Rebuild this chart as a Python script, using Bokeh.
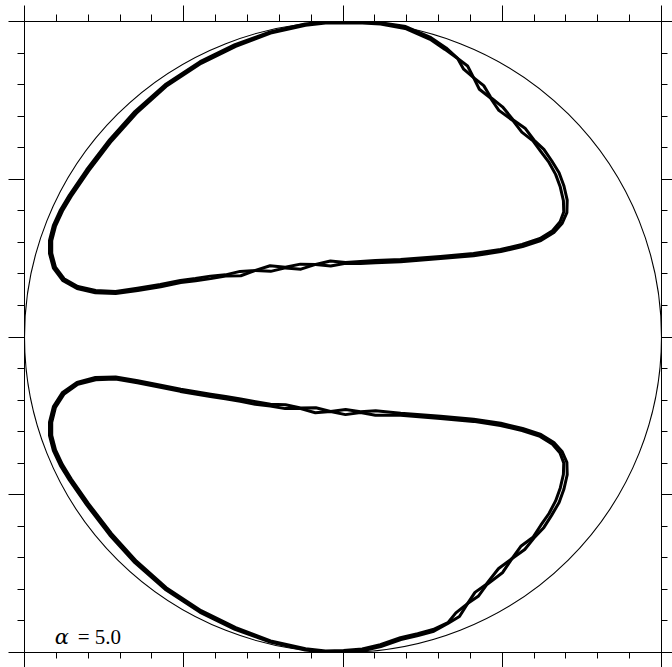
import numpy as np
from bokeh.plotting import figure
from bokeh.models import Range1d, LinearAxis, FixedTicker
from bokeh.core.properties import value
from bokeh.embed import file_html
from bokeh.resources import INLINE

# Tick positions (no labels are printed on this frame)
major_ticks = [-1.0, -0.5, 0.0, 0.5, 1.0]
minor_ticks = [-0.9, -0.8, -0.7, -0.6, -0.4, -0.3, -0.2, -0.1,
               0.1, 0.2, 0.3, 0.4, 0.6, 0.7, 0.8, 0.9]

alpha_label = "\u03b1"
alpha_value = "= 5.0"

# Upper attractor loop: centre line of the traced band
upper_x = [0.002, 0.061, 0.118, 0.196, 0.275, 0.322, 0.360, 0.385, 0.410, 0.435,
           0.463, 0.495, 0.535, 0.567, 0.598, 0.626, 0.651, 0.673, 0.688, 0.698,
           0.698, 0.685, 0.660, 0.620, 0.563, 0.495, 0.410, 0.306, 0.181, 0.102,
           0.055, 0.008, -0.039, -0.086, -0.133, -0.181, -0.228, -0.275, -0.322, -0.369,
           -0.416, -0.463, -0.510, -0.573, -0.645, -0.714, -0.777, -0.834, -0.878, -0.906,
           -0.918, -0.918, -0.906, -0.884, -0.856, -0.802, -0.730, -0.651, -0.557, -0.447,
           -0.338, -0.228, -0.118, -0.055]
upper_y = [0.997, 0.997, 0.994, 0.981, 0.946, 0.914, 0.883, 0.854, 0.822, 0.791,
           0.759, 0.724, 0.686, 0.655, 0.623, 0.591, 0.556, 0.518, 0.477, 0.433,
           0.395, 0.363, 0.334, 0.309, 0.290, 0.274, 0.261, 0.252, 0.242, 0.239,
           0.236, 0.235, 0.233, 0.230, 0.223, 0.220, 0.217, 0.211, 0.201, 0.195,
           0.189, 0.182, 0.176, 0.163, 0.151, 0.141, 0.144, 0.157, 0.182, 0.220,
           0.265, 0.306, 0.353, 0.401, 0.448, 0.528, 0.623, 0.712, 0.797, 0.870,
           0.924, 0.965, 0.990, 0.997]
# half-separation of the repeated passes along the loop (braided where large)
upper_spread = [0.002, 0.002, 0.002, 0.003, 0.003, 0.003,
                0.000, 0.008, 0.000, 0.009, 0.001, 0.008, 0.001, 0.008, 0.002, 0.006,
                0.005, 0.006, 0.006, 0.006, 0.005, 0.004,
                0.0035, 0.0035, 0.0035, 0.0035, 0.0035, 0.0035, 0.0035, 0.0035,
                0.003, 0.001, 0.008, 0.000, 0.008, 0.001, 0.009, 0.000, 0.007, 0.002, 0.004, 0.0035,
                0.0035, 0.0035, 0.0035, 0.0035, 0.0035, 0.0035, 0.0035, 0.0035, 0.0035, 0.0035, 0.0035,
                0.0035, 0.0035, 0.0035, 0.0035, 0.0035, 0.003, 0.003, 0.003, 0.002, 0.002, 0.002]

# Lower attractor loop
lower_x = [0.002, 0.061, 0.118, 0.181, 0.235, 0.284, 0.330, 0.360, 0.391, 0.420,
           0.450, 0.495, 0.530, 0.565, 0.598, 0.626, 0.651, 0.673, 0.688, 0.698,
           0.698, 0.685, 0.660, 0.620, 0.563, 0.495, 0.410, 0.306, 0.181, 0.102,
           0.055, 0.008, -0.039, -0.086, -0.133, -0.181, -0.228, -0.275, -0.322, -0.369,
           -0.416, -0.463, -0.510, -0.573, -0.645, -0.714, -0.777, -0.834, -0.878, -0.906,
           -0.918, -0.918, -0.906, -0.884, -0.856, -0.802, -0.730, -0.651, -0.557, -0.447,
           -0.338, -0.228, -0.118, -0.055]
lower_y = [-0.997, -0.992, -0.978, -0.956, -0.943, -0.930, -0.906, -0.880, -0.845, -0.815,
           -0.785, -0.740, -0.703, -0.668, -0.636, -0.600, -0.562, -0.522, -0.480, -0.436,
           -0.398, -0.366, -0.337, -0.312, -0.293, -0.277, -0.264, -0.255, -0.245, -0.241,
           -0.238, -0.238, -0.236, -0.232, -0.226, -0.221, -0.216, -0.209, -0.200, -0.192,
           -0.185, -0.177, -0.169, -0.156, -0.142, -0.130, -0.132, -0.147, -0.178, -0.222,
           -0.270, -0.312, -0.359, -0.406, -0.452, -0.530, -0.625, -0.713, -0.797, -0.870,
           -0.924, -0.965, -0.990, -0.997]
lower_spread = [0.003, 0.003, 0.003, 0.003, 0.003, 0.003,
                0.001, 0.008, 0.000, 0.008, 0.001, 0.009, 0.000, 0.008, 0.002, 0.006,
                0.005, 0.006, 0.006, 0.006, 0.005, 0.004,
                0.0035, 0.0035, 0.0035, 0.0035, 0.0035, 0.0035,
                0.003, 0.007, 0.001, 0.008, 0.000, 0.008, 0.001, 0.006, 0.003, 0.004,
                0.0035, 0.0035, 0.0035, 0.0035, 0.0035, 0.0035, 0.0035, 0.0035, 0.0035, 0.0035,
                0.0035, 0.0035, 0.0035, 0.0035, 0.0035, 0.0035, 0.0035, 0.0035, 0.0035, 0.0035,
                0.003, 0.003, 0.003, 0.002, 0.002, 0.002]


def passes(xs, ys, spread):
    """Two closed passes on either side of the loop's centre line."""
    x = np.asarray(xs, dtype=float)
    y = np.asarray(ys, dtype=float)
    s = np.asarray(spread, dtype=float)
    tx = np.roll(x, -1) - np.roll(x, 1)
    ty = np.roll(y, -1) - np.roll(y, 1)
    norm = np.hypot(tx, ty)
    nx, ny = ty / norm, -tx / norm
    out = []
    for sign in (1.0, -1.0):
        px = x + sign * s * nx
        py = y + sign * s * ny
        out.append((np.append(px, px[0]), np.append(py, py[0])))
    return out


p = figure(width=672, height=667,
           x_range=Range1d(-1.0, 1.0), y_range=Range1d(-1.0, 1.0),
           output_backend="svg", toolbar_location=None,
           x_axis_location=None, y_axis_location=None,
           min_border_left=24, min_border_right=11,
           min_border_top=21, min_border_bottom=15)
p.outline_line_color = "black"
p.outline_line_width = 1
p.background_fill_color = "white"
p.border_fill_color = "white"
p.grid.grid_line_color = None
p.grid.visible = False


def frame_axis(major_out, minor_out):
    ax = LinearAxis(ticker=FixedTicker(ticks=major_ticks, minor_ticks=minor_ticks))
    ax.major_label_text_font_size = "0px"
    ax.major_label_text_color = None
    ax.major_label_standoff = 0
    ax.axis_line_color = "black"
    ax.axis_line_width = 1
    ax.major_tick_in = 0
    ax.minor_tick_in = 0
    ax.major_tick_out = major_out
    ax.minor_tick_out = minor_out
    ax.major_tick_line_color = "black"
    ax.minor_tick_line_color = "black"
    return ax


p.add_layout(frame_axis(15, 6), "below")
p.add_layout(frame_axis(16, 7), "above")
p.add_layout(frame_axis(16, 7), "left")
p.add_layout(frame_axis(11, 6), "right")

# unit circle boundary
p.ellipse(x=[0.0], y=[0.0], width=[2.0], height=[2.0],
          fill_color=None, line_color="black", line_width=1.1)

for xs, ys, sp in ((upper_x, upper_y, upper_spread), (lower_x, lower_y, lower_spread)):
    for px, py in passes(xs, ys, sp):
        p.line(px, py, line_color="black", line_width=3.0, line_join="round")

p.text(x=[-0.905], y=[-0.952], text=[alpha_label],
       text_font=value("DejaVu Serif"), text_font_style="italic",
       text_font_size="21px", text_color="black", text_baseline="alphabetic")
p.text(x=[-0.833], y=[-0.952], text=[alpha_value],
       text_font=value("Liberation Serif"),
       text_font_size="21px", text_color="black", text_baseline="alphabetic")

open("out.html", "w").write(file_html(p, INLINE))
